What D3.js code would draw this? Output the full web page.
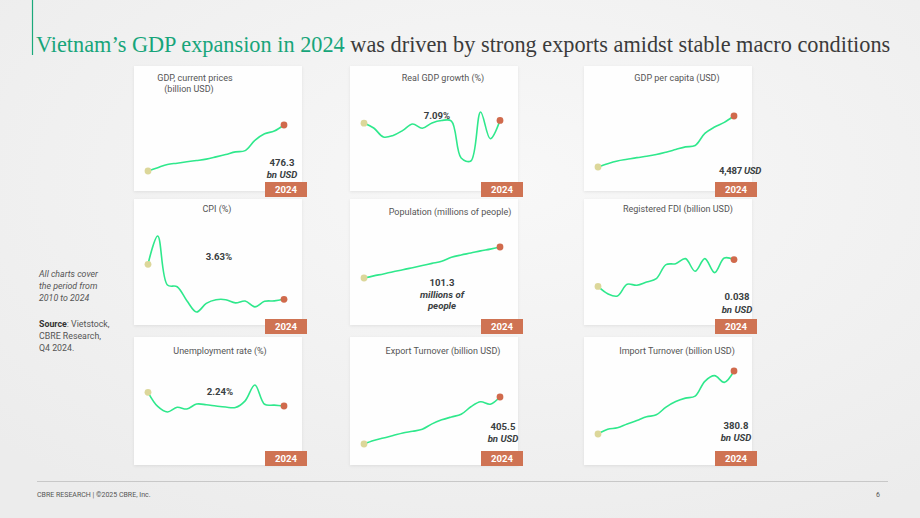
<!DOCTYPE html>
<html>
<head>
<meta charset="utf-8">
<script src="https://cdn.jsdelivr.net/npm/d3@7"></script>
<style>
  html, body { margin: 0; padding: 0; background: #efefef; }
  svg { display: block; font-family: Roboto, "Liberation Sans", sans-serif; }
</style>
</head>
<body>
<div id="chart"></div>
<script>
// data, 2010 - 2024
const years = d3.range(2010, 2025);
const gdpNominal = [147, 171, 194, 203, 213, 222, 232, 248, 265, 284, 293, 366, 413, 433, 476.3];
const gdpGrowth = [6.78, 6.24, 5.25, 5.42, 5.98, 6.68, 6.21, 6.81, 7.08, 7.02, 2.91, 2.58, 8.02, 5.05, 7.09];
const gdpPerCapita = [1690, 1874, 2021, 2113, 2205, 2279, 2371, 2500, 2647, 2794, 2868, 3530, 3880, 4138, 4487];
const cpi = [11.9, 18.58, 7.0, 6.6, 3.3, 0.63, 2.66, 3.53, 3.54, 2.79, 3.23, 1.84, 3.15, 3.25, 3.63];
const population = [86.9, 87.9, 88.8, 89.8, 90.7, 91.7, 92.7, 93.7, 94.7, 96.5, 97.6, 98.5, 99.5, 100.3, 101.3];
const fdi = [21.5, 17.0, 15.6, 22.8, 22.2, 24.2, 26.3, 34.9, 35.5, 38.6, 30.8, 38.6, 30.0, 39.0, 38.0];
const unemployment = [2.88, 2.22, 1.96, 2.18, 2.10, 2.33, 2.30, 2.24, 2.19, 2.17, 2.48, 3.22, 2.32, 2.28, 2.24];
const exports = [72.2, 96.9, 114.5, 132.0, 150.2, 162.0, 176.6, 215.1, 243.5, 264.3, 282.6, 336.3, 371.3, 354.7, 405.5];
const imports = [84.8, 106.7, 113.8, 132.0, 148.0, 165.6, 174.8, 211.1, 237.2, 253.4, 262.7, 332.2, 358.9, 327.5, 380.8];

const colX = [134, 350, 584];
const rowY = [66, 199, 337];
const rowH = [125, 126, 128];
const badgeY = [182, 319, 451];

// one entry per small chart: title lines, series, label lines and where they go
const panels = [
  { col: 0, row: 0, title: [["GDP, current prices", 61, 15], ["(billion USD)", 55, 26]], values: gdpNominal, yr: [105, 59],
    labels: [["476.3", 148, 100, "normal"], ["bn USD", 148, 112, "italic"]] },
  { col: 1, row: 0, title: [["Real GDP growth (%)", 93, 15]], values: gdpGrowth, yr: [95, 46],
    labels: [["7.09%", 87, 53, "normal"]] },
  { col: 2, row: 0, title: [["GDP per capita (USD)", 93, 15]], values: gdpPerCapita, yr: [101, 50],
    labels: [], perCapita: true },
  { col: 0, row: 1, title: [["CPI (%)", 83, 13]], values: cpi, yr: [113, 37],
    labels: [["3.63%", 85, 61, "normal"]] },
  { col: 1, row: 1, title: [["Population (millions of people)", 100, 16]], values: population, yr: [79, 48],
    labels: [["101.3", 92, 87, "normal"], ["millions of", 92, 99, "italic"], ["people", 92, 110, "italic"]] },
  { col: 2, row: 1, title: [["Registered FDI (billion USD)", 94, 13]], values: fdi, yr: [97, 59],
    labels: [["0.038", 153, 101, "normal"], ["bn USD", 153, 114, "italic"]] },
  { col: 0, row: 2, title: [["Unemployment rate (%)", 86, 17]], values: unemployment, yr: [75, 48],
    labels: [["2.24%", 86, 58, "normal"]] },
  { col: 1, row: 2, title: [["Export Turnover (billion USD)", 93, 17]], values: exports, yr: [107, 60],
    labels: [["405.5", 153, 93, "normal"], ["bn USD", 153, 105, "italic"]] },
  { col: 2, row: 2, title: [["Import Turnover (billion USD)", 93, 17]], values: imports, yr: [97, 34],
    labels: [["380.8", 152, 92, "normal"], ["bn USD", 152, 104, "italic"]] }
];

const width = 920, height = 518;
const svg = d3.select("#chart").append("svg")
  .attr("width", width)
  .attr("height", height);

const defs = svg.append("defs");
const bg = defs.append("radialGradient").attr("id", "bg")
  .attr("cx", "55%").attr("cy", "35%").attr("r", "75%");
bg.append("stop").attr("offset", "0%").attr("stop-color", "#f8f8f8");
bg.append("stop").attr("offset", "100%").attr("stop-color", "#ececec");
const shadow = defs.append("filter").attr("id", "shadow")
  .attr("x", "-10%").attr("y", "-10%").attr("width", "120%").attr("height", "120%");
shadow.append("feDropShadow").attr("dx", 0).attr("dy", 1).attr("stdDeviation", 1.5)
  .attr("flood-color", "#000").attr("flood-opacity", 0.08);

svg.append("rect").attr("width", width).attr("height", height).attr("fill", "url(#bg)");

// header
svg.append("line")
  .attr("x1", 32.5).attr("x2", 32.5).attr("y1", 0).attr("y2", 55)
  .attr("stroke", "#1aa97b").attr("stroke-width", 1.2);

// serif headline, font size fitted to the reference width
const title = svg.append("text")
  .attr("x", 36).attr("y", 52)
  .attr("font-family", "'Liberation Serif', 'DejaVu Serif', serif")
  .attr("font-size", 22);
title.append("tspan").attr("fill", "#17a57a").text("Vietnam’s GDP expansion in 2024");
title.append("tspan").attr("fill", "#3b3b3b").text(" was driven by strong exports amidst stable macro conditions");
const tw = title.node().getComputedTextLength();
title.attr("font-size", 22 * 855 / tw);

// left note
const note = svg.append("g").attr("font-size", 8.8).attr("fill", "#555");
[["All charts cover", 277], ["the period from", 289], ["2010 to 2024", 301]].forEach(d => {
  note.append("text").attr("x", 39).attr("y", d[1]).attr("font-style", "italic").text(d[0]);
});
const src = note.append("text").attr("x", 39).attr("y", 327);
src.append("tspan").attr("font-weight", "bold").attr("fill", "#333").text("Source");
src.append("tspan").text(": Vietstock,");
note.append("text").attr("x", 39).attr("y", 339).text("CBRE Research,");
note.append("text").attr("x", 39).attr("y", 351).text("Q4 2024.");

// footer
svg.append("line")
  .attr("x1", 37).attr("x2", 888).attr("y1", 481.5).attr("y2", 481.5)
  .attr("stroke", "#c8c8c8").attr("stroke-width", 1);
svg.append("text").attr("x", 37).attr("y", 497)
  .attr("font-size", 7).attr("fill", "#555").text("CBRE RESEARCH | ©2025 CBRE, Inc.");
svg.append("text").attr("x", 880).attr("y", 497).attr("text-anchor", "end")
  .attr("font-size", 7).attr("fill", "#555").text("6");

const cardW = 168;

panels.forEach(p => {
  const x0 = colX[p.col], y0 = rowY[p.row];
  const g = svg.append("g").attr("transform", `translate(${x0},${y0})`);

  g.append("rect")
    .attr("width", cardW).attr("height", rowH[p.row])
    .attr("fill", "#fefefe").attr("filter", "url(#shadow)");

  p.title.forEach(t => {
    g.append("text")
      .attr("x", t[1]).attr("y", t[2])
      .attr("text-anchor", "middle")
      .attr("font-size", 9).attr("fill", "#555")
      .text(t[0]);
  });

  const x = d3.scaleLinear().domain(d3.extent(years)).range([14, 150]);
  const y = d3.scaleLinear().domain(d3.extent(p.values)).range(p.yr);
  const pts = years.map((yr, i) => ({ year: yr, value: p.values[i] }));

  const line = d3.line()
    .x(d => x(d.year))
    .y(d => y(d.value))
    .curve(d3.curveCatmullRom.alpha(0.5));

  g.append("path")
    .datum(pts)
    .attr("d", line)
    .attr("fill", "none")
    .attr("stroke", "#2fe88c")
    .attr("stroke-width", 1.6);

  const first = pts[0], last = pts[pts.length - 1];
  g.append("circle").attr("cx", x(first.year)).attr("cy", y(first.value)).attr("r", 3.4).attr("fill", "#dcd79a");
  g.append("circle").attr("cx", x(last.year)).attr("cy", y(last.value)).attr("r", 3.4).attr("fill", "#d06a4c");

  p.labels.forEach(l => {
    g.append("text")
      .attr("x", l[1]).attr("y", l[2])
      .attr("text-anchor", "middle")
      .attr("font-size", 9.6).attr("font-weight", "bold")
      .attr("font-style", l[3])
      .attr("fill", "#3a3f42")
      .text(l[0]);
  });

  if (p.perCapita) {
    const t = g.append("text").attr("x", 135).attr("y", 108)
      .attr("font-size", 9.6).attr("font-weight", "bold").attr("fill", "#3a3f42")
      .attr("letter-spacing", -0.3);
    t.append("tspan").text("4,487");
    t.append("tspan").attr("font-style", "italic").text(" USD");
  }

  // 2024 badge
  const b = svg.append("g").attr("transform", `translate(${x0 + 131},${badgeY[p.row]})`);
  b.append("rect").attr("width", 42).attr("height", 15).attr("fill", "#cf7353");
  b.append("text").attr("x", 21).attr("y", 11.2).attr("text-anchor", "middle")
    .attr("font-size", 9.6).attr("font-weight", "bold").attr("fill", "#fff")
    .text(years[years.length - 1]);
});
</script>
</body>
</html>
